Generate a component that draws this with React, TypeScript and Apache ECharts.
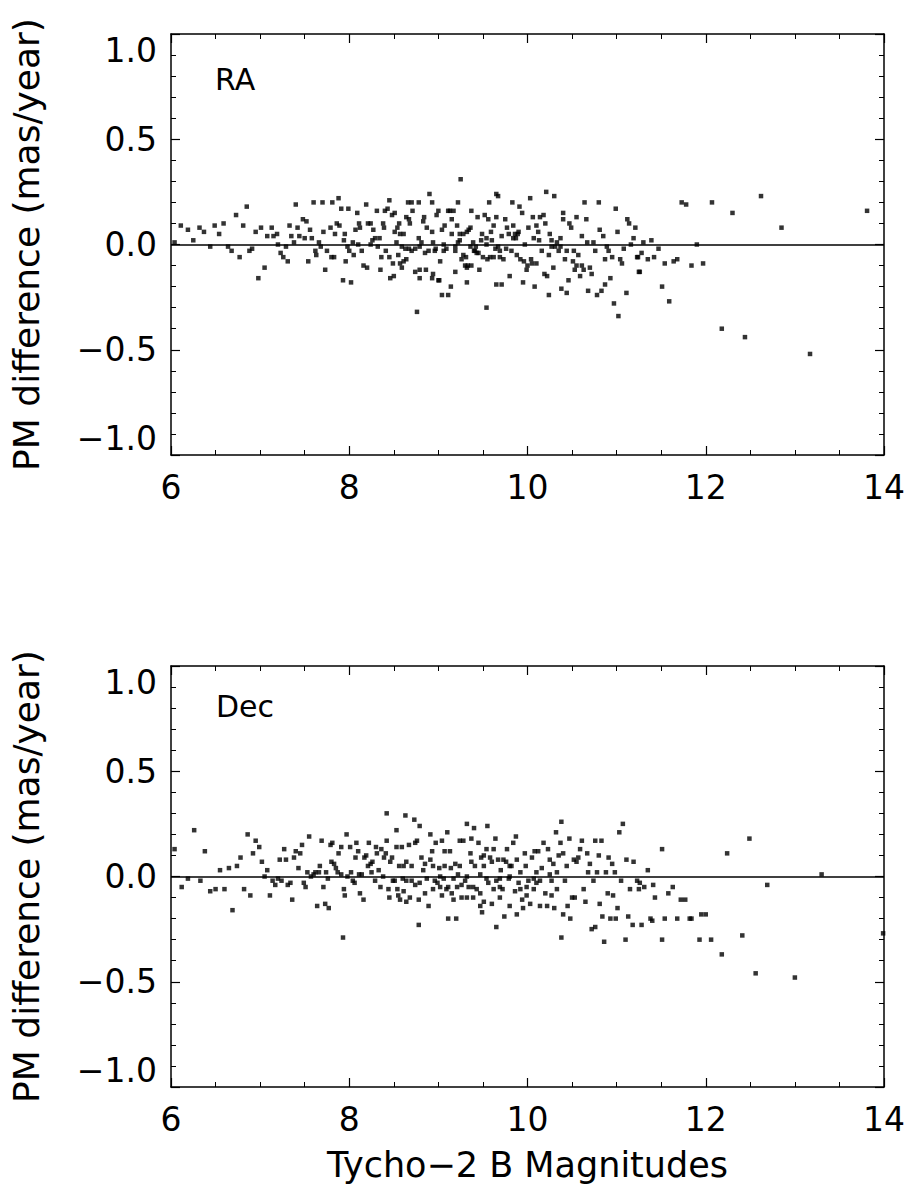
import React, { useEffect, useRef } from "react";
import * as echarts from "echarts";

// Tycho-2 B magnitude vs proper-motion difference (mas/year)
const raPoints: [number, number][] = [
  [6.04,0.01],[6.11,0.09],[6.19,0.07],[6.25,0.02],[6.32,0.08],[6.37,0.06],[6.44,-0.01],[6.49,0.09],[6.54,0.05],[6.59,0.10],
  [6.64,-0.01],[6.68,-0.03],[6.73,0.14],[6.77,-0.06],[6.81,0.09],[6.85,0.18],[6.88,-0.03],[6.91,-0.02],[6.95,0.06],[6.98,-0.16],
  [7.01,0.08],[7.05,-0.11],[7.08,0.04],[7.13,0.08],[7.15,0.04],[7.19,0.05],[7.20,0.00],[7.23,-0.04],[7.26,-0.06],[7.29,-0.01],
  [7.31,-0.08],[7.33,0.09],[7.35,0.04],[7.38,0.01],[7.40,0.19],[7.42,0.08],[7.44,0.04],[7.48,0.12],[7.50,0.03],[7.52,0.11],
  [7.54,-0.08],[7.56,0.07],[7.58,0.03],[7.60,0.20],[7.62,-0.03],[7.63,-0.05],[7.66,0.01],[7.68,-0.01],[7.70,0.20],[7.71,0.06],
  [7.73,-0.12],[7.75,-0.03],[7.79,0.08],[7.80,-0.06],[7.81,0.20],[7.83,-0.06],[7.84,0.05],[7.86,0.10],[7.88,0.22],[7.89,0.09],
  [7.91,0.17],[7.93,-0.17],[7.94,0.02],[7.95,0.05],[7.96,-0.08],[7.98,-0.01],[7.99,0.17],[8.00,-0.03],[8.02,-0.18],[8.04,0.01],
  [8.05,-0.05],[8.07,0.07],[8.09,0.15],[8.10,0.00],[8.11,0.10],[8.12,0.08],[8.14,-0.03],[8.16,-0.10],[8.19,0.19],[8.20,-0.11],
  [8.21,0.10],[8.24,0.00],[8.24,0.10],[8.26,0.02],[8.27,0.07],[8.29,0.03],[8.31,0.16],[8.32,-0.01],[8.34,0.03],[8.35,-0.12],
  [8.36,-0.06],[8.38,0.10],[8.39,0.08],[8.40,0.16],[8.41,-0.03],[8.43,0.17],[8.45,0.21],[8.45,-0.06],[8.46,-0.16],[8.48,0.14],
  [8.49,-0.09],[8.50,-0.15],[8.51,0.15],[8.51,0.06],[8.53,0.01],[8.54,0.08],[8.55,-0.05],[8.56,0.10],[8.57,-0.09],[8.57,0.05],
  [8.76,-0.32],[9.25,0.31],[8.90,0.24],[8.93,0.20],[8.66,0.20],[8.70,0.20],[8.78,0.20],[8.71,0.16],[8.64,0.13],[8.67,0.12],
  [8.68,0.10],[8.61,0.05],[8.59,-0.01],[8.63,-0.02],[8.70,-0.03],[8.74,-0.02],[8.61,-0.08],[8.64,-0.07],[8.59,-0.11],[8.74,-0.13],
  [8.79,-0.12],[8.79,-0.16],[8.86,-0.12],[8.93,-0.16],[8.94,-0.14],[9.00,-0.17],[9.01,-0.17],[9.04,-0.24],[9.11,-0.24],[9.14,-0.20],
  [9.19,-0.13],[9.32,-0.18],[9.54,-0.30],[9.65,-0.19],[9.71,-0.19],[8.78,0.03],[8.81,0.01],[8.84,0.13],[8.83,0.11],[8.87,0.08],
  [8.89,-0.03],[8.85,-0.04],[8.93,0.06],[8.94,0.01],[8.96,-0.03],[8.98,0.14],[9.00,0.16],[9.02,-0.08],[9.04,0.07],[9.07,0.09],
  [9.06,0.00],[9.09,-0.02],[9.11,0.16],[9.13,0.16],[9.15,0.12],[9.17,0.16],[9.15,0.05],[9.19,-0.01],[9.21,0.09],[9.22,0.20],
  [9.24,0.02],[9.26,-0.07],[9.28,0.05],[9.30,-0.10],[9.32,-0.11],[9.34,0.07],[9.36,0.08],[9.37,0.16],[9.37,-0.10],[9.39,0.01],
  [9.41,-0.03],[9.43,-0.04],[9.44,0.13],[9.46,-0.12],[9.49,0.05],[9.50,-0.06],[9.52,0.14],[9.54,0.00],[9.56,0.12],[9.57,0.20],
  [9.58,-0.06],[9.60,0.02],[9.62,0.09],[9.64,-0.02],[9.65,0.24],[9.67,0.23],[9.67,-0.01],[9.69,-0.06],[9.71,0.04],[9.73,-0.07],
  [9.75,0.12],[9.77,0.08],[9.79,0.05],[9.80,-0.15],[9.82,-0.03],[9.83,0.20],[9.84,0.09],[9.86,0.05],[9.88,-0.05],[9.90,0.06],
  [9.91,0.18],[9.92,-0.07],[9.94,0.15],[9.95,-0.18],[9.97,0.00],[9.99,-0.12],[10.01,0.08],[10.03,0.22],[10.04,-0.07],[10.06,0.13],
  [10.07,0.03],[10.08,-0.20],[10.10,-0.09],[10.10,0.09],[10.12,0.06],[10.14,0.13],[10.16,-0.03],[10.18,0.14],[10.19,-0.14],[10.20,0.10],
  [10.21,0.25],[10.22,-0.15],[10.24,-0.05],[10.25,0.05],[10.27,0.02],[10.29,-0.11],[10.30,0.23],[10.31,-0.01],[10.24,-0.24],[10.33,0.01],
  [10.35,-0.03],[10.37,0.03],[10.38,-0.21],[10.40,0.15],[10.40,0.12],[10.42,-0.07],[10.44,-0.23],[10.46,-0.17],[10.47,0.10],[10.49,0.08],
  [10.51,-0.08],[10.52,-0.03],[10.53,-0.12],[10.55,0.13],[10.57,-0.05],[10.59,-0.15],[10.61,-0.10],[10.63,-0.12],[10.64,0.20],[10.66,0.12],
  [10.67,0.01],[10.68,-0.22],[10.70,-0.11],[10.72,-0.14],[10.74,0.01],[10.76,-0.03],[10.78,-0.24],[10.80,0.20],[10.81,0.07],[10.83,-0.22],
  [10.85,0.04],[10.87,-0.19],[10.89,-0.01],[10.91,-0.03],[10.93,-0.16],[10.95,-0.06],[10.97,-0.28],[10.99,0.17],[11.01,0.06],[11.02,-0.34],
  [11.04,-0.07],[11.06,-0.09],[11.08,-0.02],[11.11,-0.23],[11.12,0.12],[11.14,0.10],[11.16,0.00],[11.19,0.03],[11.21,0.08],[11.23,-0.06],
  [11.25,-0.13],[11.30,0.01],[11.39,0.02],[11.24,-0.06],[11.28,-0.04],[11.35,-0.07],[11.42,-0.06],[11.47,-0.02],[11.26,-0.13],[11.51,-0.20],
  [11.54,-0.09],[11.64,-0.08],[11.68,-0.07],[11.73,0.20],[11.78,0.19],[11.84,-0.10],[11.90,0.00],[11.97,-0.09],[12.07,0.20],[12.30,0.15],
  [12.62,0.23],[12.85,0.08],[13.81,0.16],[11.59,-0.27],[12.18,-0.40],[12.44,-0.44],[13.17,-0.52],
  [9.40,-0.03],[9.42,-0.01],[9.45,-0.04],[9.36,-0.01],[9.55,-0.07],[9.62,-0.06],[9.69,-0.03],[9.76,-0.02],[9.87,0.03],[9.89,0.05],
  [9.96,-0.08],[10.00,-0.10],[10.05,-0.09],[9.54,0.03],[9.48,0.02],[9.31,-0.06],[9.33,-0.10],[9.28,-0.05],[9.06,-0.03],[8.97,-0.02],
  [8.79,-0.01],[8.67,-0.02],[9.19,-0.03],[9.22,0.01],[9.24,0.05],[9.32,0.06],[9.59,0.06],[9.65,0.13],[9.84,0.03],[10.13,0.02],
  [10.27,-0.01],[10.37,-0.01],[10.44,-0.03],[10.61,0.04],[10.55,-0.10],[10.87,-0.07]
];

const decPoints: [number, number][] = [
  [6.04,0.13],[6.12,-0.05],[6.19,-0.01],[6.26,0.22],[6.33,-0.02],[6.38,0.12],[6.44,-0.07],[6.50,-0.06],[6.55,0.03],[6.60,-0.06],
  [6.65,0.04],[6.69,-0.16],[6.74,0.05],[6.78,0.09],[6.82,-0.06],[6.86,0.20],[6.89,-0.09],[6.92,0.11],[6.95,0.17],[6.99,0.14],
  [7.02,0.07],[7.05,0.00],[7.08,0.03],[7.11,-0.09],[7.14,-0.02],[7.17,-0.04],[7.20,-0.01],[7.22,0.08],[7.24,-0.02],[7.27,0.13],
  [7.29,0.08],[7.31,-0.04],[7.34,-0.03],[7.36,-0.11],[7.38,0.09],[7.40,0.12],[7.43,0.04],[7.45,0.11],[7.47,0.15],[7.49,-0.03],
  [7.51,-0.05],[7.53,0.02],[7.55,0.19],[7.57,0.00],[7.60,0.01],[7.62,0.02],[7.64,-0.14],[7.66,0.02],[7.67,0.05],[7.69,0.17],
  [7.71,-0.05],[7.73,-0.13],[7.74,0.02],[7.76,-0.01],[7.77,-0.15],[7.79,0.15],[7.80,0.07],[7.81,0.16],[7.83,0.06],[7.85,0.04],
  [7.87,0.02],[7.88,0.11],[7.91,0.01],[7.91,0.14],[7.93,-0.29],[7.94,-0.06],[7.95,-0.09],[7.97,0.20],[7.98,0.00],[8.01,0.14],
  [8.02,0.02],[8.04,-0.02],[8.06,-0.03],[8.07,0.09],[8.08,0.16],[8.10,0.12],[8.11,0.01],[8.12,-0.08],[8.14,0.01],[8.16,-0.11],
  [8.17,0.09],[8.19,0.10],[8.21,0.05],[8.22,0.16],[8.24,0.06],[8.25,0.02],[8.26,0.07],[8.29,-0.02],[8.30,0.14],[8.31,0.11],
  [8.33,0.03],[8.35,-0.05],[8.36,0.13],[8.38,0.00],[8.39,0.09],[8.41,0.11],[8.42,0.17],[8.42,0.30],[8.44,-0.06],[8.45,-0.10],
  [8.46,0.07],[8.48,0.09],[8.49,-0.02],[8.51,-0.02],[8.53,0.22],[8.53,0.14],[8.54,-0.06],[8.55,-0.09],[8.56,0.05],[8.57,-0.11],
  [8.63,0.29],[8.73,0.27],[8.79,0.24],[8.59,0.14],[8.61,0.05],[8.64,0.07],[8.67,0.15],[8.70,0.05],[8.74,0.16],[8.76,0.17],
  [8.60,-0.01],[8.64,-0.02],[8.70,-0.02],[8.74,-0.04],[8.61,-0.07],[8.68,-0.10],[8.78,-0.11],[8.64,-0.12],[8.85,-0.08],[8.89,-0.14],
  [8.78,-0.23],[8.81,0.09],[8.83,0.03],[8.85,0.06],[8.87,-0.01],[8.91,0.08],[8.91,0.20],[8.93,0.12],[8.94,0.05],[8.96,-0.02],
  [8.97,0.16],[8.99,-0.03],[9.01,0.04],[9.02,-0.05],[9.04,0.17],[9.06,-0.01],[9.07,0.12],[9.09,-0.06],[9.10,0.21],[9.11,-0.20],
  [9.13,0.12],[9.14,0.04],[9.15,-0.08],[9.17,-0.11],[9.19,0.06],[9.20,-0.20],[9.21,-0.05],[9.22,0.01],[9.24,0.17],[9.26,-0.10],
  [9.28,0.17],[9.30,-0.02],[9.32,0.25],[9.32,-0.10],[9.34,-0.05],[9.36,0.11],[9.37,0.07],[9.37,0.18],[9.39,-0.10],[9.40,0.23],
  [9.41,0.05],[9.43,-0.06],[9.45,0.16],[9.47,-0.14],[9.48,0.09],[9.49,-0.17],[9.51,0.10],[9.51,-0.12],[9.54,0.13],[9.55,0.24],
  [9.56,-0.03],[9.58,0.09],[9.60,-0.13],[9.62,0.13],[9.64,0.18],[9.65,-0.24],[9.65,-0.02],[9.67,0.08],[9.69,-0.10],[9.70,0.03],
  [9.72,-0.06],[9.74,-0.19],[9.76,0.07],[9.77,0.13],[9.79,-0.01],[9.80,-0.14],[9.82,0.05],[9.84,0.16],[9.86,-0.07],[9.87,0.19],
  [9.88,-0.18],[9.90,-0.03],[9.92,0.02],[9.94,-0.11],[9.95,-0.15],[9.97,0.11],[9.98,0.05],[9.99,-0.09],[10.01,-0.02],[10.03,-0.13],
  [10.05,0.09],[10.07,-0.06],[10.08,0.12],[10.10,0.02],[10.10,-0.03],[10.12,0.12],[10.14,-0.14],[10.16,0.04],[10.18,0.16],[10.20,-0.08],
  [10.22,-0.14],[10.23,0.13],[10.25,0.01],[10.25,0.08],[10.27,-0.09],[10.29,0.06],[10.30,-0.15],[10.32,0.21],[10.33,-0.06],[10.35,0.10],
  [10.37,0.16],[10.38,-0.29],[10.38,0.26],[10.40,0.11],[10.40,-0.18],[10.42,-0.02],[10.44,0.05],[10.45,-0.14],[10.47,0.18],[10.48,-0.20],
  [10.50,-0.10],[10.52,0.08],[10.53,-0.10],[10.55,0.07],[10.57,0.09],[10.59,0.13],[10.61,0.17],[10.63,-0.06],[10.65,-0.12],[10.67,0.11],
  [10.68,0.02],[10.70,0.06],[10.72,-0.25],[10.74,-0.02],[10.76,0.17],[10.78,0.02],[10.80,0.10],[10.81,-0.13],[10.83,0.17],[10.84,-0.19],
  [10.86,-0.31],[10.88,0.02],[10.90,-0.08],[10.91,0.09],[10.93,-0.20],[10.95,0.06],[10.96,-0.09],[10.98,0.02],[10.99,-0.20],[11.01,-0.15],
  [11.03,0.21],[11.05,-0.02],[11.07,0.25],[11.10,-0.30],[11.11,0.08],[11.13,-0.19],[11.15,-0.06],[11.18,-0.23],[11.19,0.07],[11.23,-0.02],
  [11.25,-0.06],[11.35,0.03],[11.51,0.13],[11.43,-0.10],[11.58,-0.08],[11.63,-0.05],[11.72,-0.11],[11.77,-0.11],[11.38,-0.20],[11.54,-0.20],
  [11.68,-0.20],[11.82,-0.20],[11.95,-0.18],[12.24,0.11],[12.49,0.18],[12.69,-0.04],[13.30,0.01],[11.26,-0.03],[11.31,-0.05],[11.41,-0.04],
  [12.56,-0.46],[13.00,-0.48],[12.18,-0.37],[12.41,-0.28],[11.93,-0.30],[12.06,-0.30],[12.00,-0.18],[11.51,-0.30],[10.76,-0.24],[11.28,-0.23],
  [11.40,-0.21],[11.84,-0.20],[13.99,-0.27],
  [9.02,0.00],[9.17,-0.01],[9.32,0.00],[9.47,0.01],[9.54,-0.01],[9.69,-0.01],[9.80,0.00],[10.07,-0.01],[10.14,-0.02],[9.51,0.05],
  [9.60,0.07],[9.73,0.08],[9.80,0.05],[9.88,0.08],[9.07,0.05],[9.24,0.05],[9.26,-0.04],[9.39,-0.05],[9.47,-0.08],[9.62,-0.06],
  [9.69,-0.05],[10.27,-0.02],[10.33,0.02],[8.79,-0.03],[8.94,-0.06],[9.04,-0.09],[9.11,-0.05],[9.92,-0.06],[9.99,-0.05]
];

const xTicks = { min: 6, max: 14, interval: 2 };
const yTicks = { min: -1, max: 1, interval: 0.5 };
const panelLabels = ["RA", "Dec"];
const yTitle = "PM difference (mas/year)";
const xTitle = "Tycho\u22122 B Magnitudes";

const FONT = "DejaVu Sans";
const BLACK = "#000";

function fmtY(v: number): string {
  if (Math.abs(v) < 1e-9) return "0.0";
  return v < 0 ? "\u2212" + Math.abs(v).toFixed(1) : v.toFixed(1);
}

function xAxisFor(gridIndex: number, pos: "bottom" | "top", labels: boolean, withTitle: boolean) {
  return {
    type: "value",
    gridIndex,
    position: pos,
    min: xTicks.min,
    max: xTicks.max,
    interval: xTicks.interval,
    name: withTitle ? xTitle : "",
    nameLocation: "middle",
    nameGap: 60,
    nameTextStyle: { fontFamily: FONT, fontSize: 35, color: BLACK },
    axisLine: { show: true, onZero: false, lineStyle: { color: BLACK, width: 1.5 } },
    axisTick: { show: true, inside: true, length: 9, lineStyle: { color: BLACK, width: 1.2 } },
    minorTick: { show: true, splitNumber: 4, length: 5, lineStyle: { color: BLACK, width: 1 } },
    axisLabel: {
      show: labels,
      fontFamily: FONT,
      fontSize: 33,
      color: BLACK,
      margin: 16,
      formatter: (v: number) => String(v),
    },
    splitLine: { show: false },
    minorSplitLine: { show: false },
  };
}

function yAxisFor(gridIndex: number, pos: "left" | "right", labels: boolean) {
  return {
    type: "value",
    gridIndex,
    position: pos,
    min: yTicks.min,
    max: yTicks.max,
    interval: yTicks.interval,
    name: labels ? yTitle : "",
    nameLocation: "middle",
    nameGap: 127,
    nameTextStyle: { fontFamily: FONT, fontSize: 36, color: BLACK },
    axisLine: { show: true, onZero: false, lineStyle: { color: BLACK, width: 1.5 } },
    axisTick: { show: true, inside: true, length: 9, lineStyle: { color: BLACK, width: 1.2 } },
    minorTick: { show: true, splitNumber: 5, length: 5, lineStyle: { color: BLACK, width: 1 } },
    axisLabel: {
      show: labels,
      fontFamily: FONT,
      fontSize: 33,
      color: BLACK,
      margin: 14,
      formatter: fmtY,
      verticalAlignMinLabel: "bottom",
      verticalAlignMaxLabel: "top",
    },
    splitLine: { show: false },
    minorSplitLine: { show: false },
  };
}

function scatterSeries(name: string, data: [number, number][], axisIdx: number) {
  return {
    name,
    type: "scatter",
    xAxisIndex: axisIdx,
    yAxisIndex: axisIdx,
    data,
    symbol: "rect",
    symbolSize: 4.5,
    itemStyle: { color: BLACK },
    silent: true,
    markLine: {
      silent: true,
      symbol: "none",
      label: { show: false },
      lineStyle: { color: BLACK, width: 1.5, type: "solid" },
      data: [{ yAxis: 0 }],
    },
  };
}

export default function App() {
  const ref = useRef<HTMLDivElement>(null);
  useEffect(() => {
    if (!ref.current) return;
    const chart = echarts.init(ref.current, undefined, { renderer: "svg" });
    const grids = [
      { left: 171, top: 34, width: 713, height: 421 },
      { left: 171, top: 666, width: 713, height: 421 },
    ];
    chart.setOption({
      animation: false,
      backgroundColor: "#fff",
      grid: grids.map((g) => ({ ...g, containLabel: false })),
      xAxis: [
        xAxisFor(0, "bottom", true, false),
        xAxisFor(0, "top", false, false),
        xAxisFor(1, "bottom", true, true),
        xAxisFor(1, "top", false, false),
      ],
      yAxis: [
        yAxisFor(0, "left", true),
        yAxisFor(0, "right", false),
        yAxisFor(1, "left", true),
        yAxisFor(1, "right", false),
      ],
      series: [scatterSeries("RA", raPoints, 0), scatterSeries("Dec", decPoints, 2)],
      graphic: [
        {
          type: "text",
          left: 215,
          top: 64,
          style: { text: panelLabels[0], fontFamily: FONT, fontSize: 30, fill: BLACK },
        },
        {
          type: "text",
          left: 216,
          top: 691,
          style: { text: panelLabels[1], fontFamily: FONT, fontSize: 30, fill: BLACK },
        },
      ],
    });
    return () => chart.dispose();
  }, []);
  return (
    <div
      ref={ref}
      style={{ position: "fixed", left: 0, top: 0, width: 910, height: 1190, background: "#fff" }}
    />
  );
}
